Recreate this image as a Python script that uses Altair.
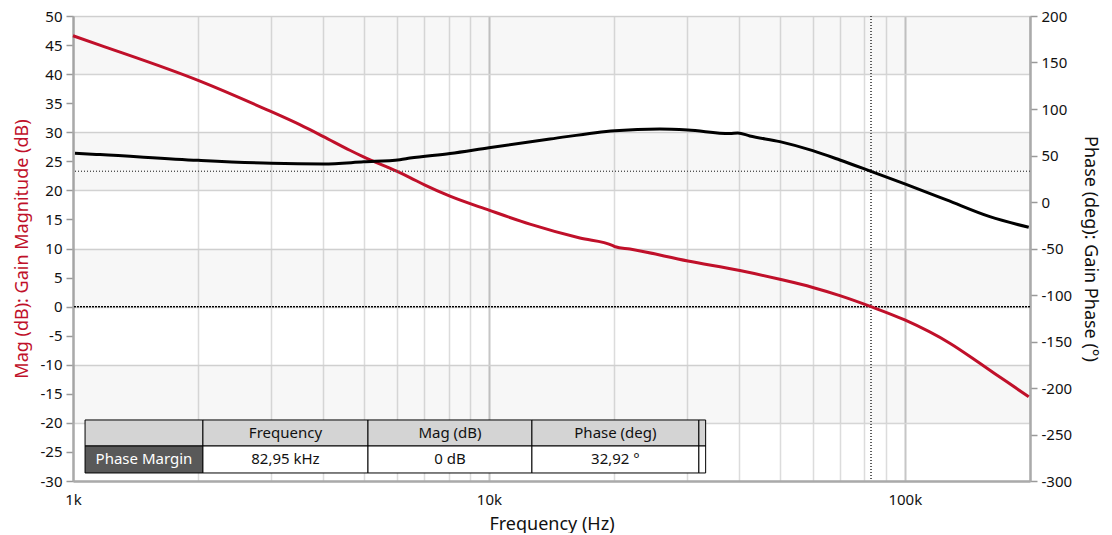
import altair as alt
import pandas as pd

# ---------------- data ----------------
mag_freq = [1000, 1160, 2020, 2920, 3510, 3990, 4630, 4980, 6000, 6460, 7020, 8060,
            10000, 12550, 16550, 19870, 20140, 21830, 30090, 40120, 50060, 60080,
            69800, 82950, 100000, 128300, 151500, 175600, 198600]
mag_db = [46.6, 45.0, 38.8, 33.9, 31.3, 29.3, 26.9, 25.8, 23.3, 22.2, 20.9, 19.0,
          16.6, 14.2, 11.8, 10.5, 10.3, 9.9, 7.85, 6.2, 4.7, 3.3,
          1.9, 0.0, -2.3, -6.3, -9.75, -12.9, -15.5]

phase_freq = [1011, 1161, 2000, 3000, 4000, 5000, 6110, 6460, 8060, 10000, 14020,
              20100, 25760, 30090, 37960, 39680, 42390, 50060, 60080, 69800, 82950,
              100000, 126000, 160100, 198600]
phase_deg = [52.4, 51.0, 44.8, 41.6, 40.9, 43.2, 45.5, 47.2, 52.2, 58.4, 67.7,
             76.7, 78.5, 77.4, 73.6, 74.3, 71.0, 64.9, 55.2, 45.2, 32.9,
             19.4, 2.2, -15.8, -27.2]

pm_freq = 82950
pm_phase = 32.92

x_grid_values = [1000, 2000, 3000, 4000, 5000, 6000, 7000, 8000, 9000,
                 10000, 20000, 30000, 40000, 50000, 60000, 70000, 80000, 90000,
                 100000, 200000]
mag_ticks = list(range(-30, 55, 5))
phase_ticks = list(range(-300, 250, 50))
band_lo = [40, 20, 0, -20]
band_hi = [50, 30, 10, -10]

table_header = ["", "Frequency", "Mag (dB)", "Phase (deg)", ""]
table_values = ["Phase Margin", "82,95 kHz", "0 dB", "32,92 °", ""]

# table layout (in chart data units)
col_edges = [1069, 2053, 5120, 12690, 31980, 33200]
row_edges = [-19.5, -23.98, -28.62]

RED = "#c0102a"
FONT = "Noto Sans"

mag_df = pd.DataFrame({"f": mag_freq, "v": mag_db})
phase_df = pd.DataFrame({"f": phase_freq, "v": phase_deg})
band_df = pd.DataFrame({"lo": band_lo, "hi": band_hi})

cells = []
for r, row in enumerate([table_header, table_values]):
    for c, txt in enumerate(row):
        if r == 0:
            kind = "header"
        elif c == 0:
            kind = "label"
        else:
            kind = "value"
        x1, x2 = col_edges[c], col_edges[c + 1]
        cells.append({"x1": x1, "x2": x2, "xm": (x1 * x2) ** 0.5,
                      "y1": row_edges[r], "y2": row_edges[r + 1],
                      "ym": (row_edges[r] + row_edges[r + 1]) / 2,
                      "txt": txt, "kind": kind})
cell_df = pd.DataFrame(cells)

xscale = alt.Scale(type="log", domain=[1000, 200000], nice=False)
magscale = alt.Scale(domain=[-30, 50], nice=False, zero=False)
phscale = alt.Scale(domain=[-300, 200], nice=False, zero=False)

decade = "datum.value == 10000 || datum.value == 100000"
xaxis = alt.Axis(
    values=x_grid_values,
    labelExpr="datum.value == 1000 ? '1k' : datum.value == 10000 ? '10k' : datum.value == 100000 ? '100k' : ''",
    ticks=False, grid=True,
    gridColor={"condition": {"test": decade, "value": "#c6c6c6"}, "value": "#dcdcdc"},
    gridWidth={"condition": {"test": decade, "value": 2}, "value": 1.5},
    domainColor="#aaaaaa", domainWidth=2.5,
    labelFontSize=15, labelPadding=11, labelFlush=False, labelColor="#111",
    title="Frequency (Hz)", titleFontSize=18, titleFontWeight="normal",
    titlePadding=8, titleColor="#111",
)
magaxis = alt.Axis(
    values=mag_ticks, grid=True, labelOverlap=False,
    labelExpr="datum.value + ''",
    gridOpacity={"condition": {"test": "datum.value % 10 !== 0", "value": 0}, "value": 1},
    gridColor="#d6d6d6", gridWidth=1.5,
    tickColor="#999999", tickSize=7, tickWidth=1.5,
    domainColor="#aaaaaa", domainWidth=2.5,
    labelFontSize=15, labelPadding=4, labelFlush=False, labelColor="#111",
    title="Mag (dB): Gain Magnitude (dB)", titleColor=RED, titleFontSize=18,
    titleFontWeight="normal", titlePadding=9,
)
phaxis = alt.Axis(
    orient="right", values=phase_ticks, grid=False, labelOverlap=False,
    labelExpr="datum.value + ''",
    tickColor="#999999", tickSize=7, tickWidth=1.5,
    domainColor="#aaaaaa", domainWidth=2.5,
    labelFontSize=15, labelPadding=4, labelFlush=False, labelColor="#111",
    title="Phase (deg): Gain Phase (°)", titleColor="#111", titleFontSize=18,
    titleFontWeight="normal", titlePadding=9,
)

bands = alt.Chart(band_df).mark_rect(color="#000000", opacity=0.03).encode(
    y=alt.Y("lo:Q", scale=magscale, axis=magaxis),
    y2="hi:Q",
)
zero_rule = alt.Chart(band_df).mark_rule(color="#000000", strokeWidth=1, strokeDash=[2, 1]).encode(
    y=alt.datum(0, scale=magscale, axis=magaxis),
)
mag_line = alt.Chart(mag_df).mark_line(color=RED, strokeWidth=3, interpolate="monotone").encode(
    x=alt.X("f:Q", scale=xscale, axis=xaxis),
    y=alt.Y("v:Q", scale=magscale, axis=magaxis),
)
table_rect = alt.Chart(cell_df).mark_rect(stroke="#000000", strokeWidth=1).encode(
    x=alt.X("x1:Q", scale=xscale, axis=xaxis),
    x2="x2:Q",
    y=alt.Y("y1:Q", scale=magscale, axis=magaxis),
    y2="y2:Q",
    fill=alt.Fill("kind:N", scale=alt.Scale(domain=["header", "label", "value"],
                                            range=["#d4d4d4", "#595959", "#ffffff"]),
                  legend=None),
)
table_text = alt.Chart(cell_df).mark_text(fontSize=15, font=FONT, baseline="middle").encode(
    x=alt.X("xm:Q", scale=xscale, axis=xaxis),
    y=alt.Y("ym:Q", scale=magscale, axis=magaxis),
    text="txt:N",
    color=alt.Color("kind:N", scale=alt.Scale(domain=["header", "label", "value"],
                                              range=["#111111", "#ffffff", "#111111"]),
                    legend=None),
)
vrule = alt.Chart(band_df).mark_rule(color="#555555", strokeWidth=1, strokeDash=[1, 2]).encode(
    x=alt.datum(pm_freq, scale=xscale, axis=xaxis),
)

mag_layer = alt.layer(bands, zero_rule, vrule, mag_line, table_rect, table_text).resolve_scale(
    fill="independent", color="independent")

phase_line = alt.Chart(phase_df).mark_line(color="#000000", strokeWidth=3, interpolate="monotone").encode(
    x=alt.X("f:Q", scale=xscale, axis=xaxis),
    y=alt.Y("v:Q", scale=phscale, axis=phaxis),
)
hrule = alt.Chart(band_df).mark_rule(color="#555555", strokeWidth=1, strokeDash=[1, 2]).encode(
    y=alt.datum(pm_phase, scale=phscale, axis=phaxis),
)
phase_layer = alt.layer(hrule, phase_line)

chart = alt.layer(mag_layer, phase_layer).resolve_scale(y="independent").properties(
    width=957, height=465,
    autosize=alt.AutoSizeParams(type="none"),
    padding={"left": 65, "top": 8, "right": 74, "bottom": 52},
).configure(font=FONT).configure_view(stroke="#a0a0a0", strokeWidth=1)

chart.save("out.html", embed_options={"renderer": "svg", "actions": False})
